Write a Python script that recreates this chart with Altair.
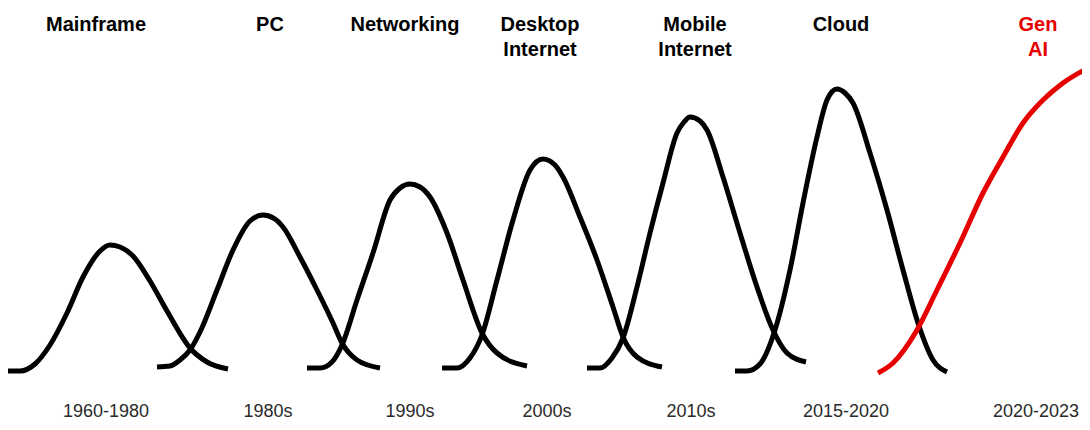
import altair as alt
import pandas as pd

# ---- data (x position, adoption level) ----
mainframe_x = [8, 20, 35, 50, 67, 83, 100, 110, 120, 133, 150, 167, 190, 207, 228]
mainframe_y = [9, 9, 16, 35, 67, 103, 129, 135, 133, 124, 99, 69, 32, 18, 11]

pc_x = [157, 170, 180, 190, 200, 217, 233, 250, 263, 275, 283, 300, 317, 333, 342, 357, 380]
pc_y = [13, 14, 20, 30, 48, 90, 130, 159, 165, 161, 153, 123, 90, 57, 37, 20, 12]

net_x = [307, 320, 332, 342, 357, 373, 390, 400, 410, 420, 430, 447, 463, 482, 497, 527]
net_y = [12, 12, 18, 35, 80, 127, 180, 192, 196, 193, 183, 147, 100, 47, 27, 14]

desk_x = [442, 457, 470, 482, 497, 513, 530, 543, 555, 563, 580, 597, 613, 623, 637, 662]
desk_y = [12, 12, 22, 45, 100, 160, 210, 221, 215, 203, 163, 120, 73, 43, 23, 13]

mob_x = [587, 600, 612, 623, 637, 650, 663, 677, 684, 690, 700, 707, 723, 740, 757, 773, 787, 806]
mob_y = [12, 12, 22, 42, 93, 147, 197, 247, 258, 263, 259, 250, 203, 147, 93, 50, 27, 18]

cloud_x = [735, 747, 760, 775, 790, 803, 817, 827, 837, 845, 853, 870, 887, 903, 918, 933, 947]
cloud_y = [9, 9, 16, 50, 110, 177, 243, 280, 291, 287, 277, 227, 170, 110, 57, 20, 8]

genai_x = [878, 893, 917, 937, 960, 983, 1003, 1023, 1043, 1063, 1090]
genai_y = [7, 17, 50, 90, 137, 187, 223, 257, 280, 297, 313]

eras = ["Mainframe", "PC", "Networking", "Desktop\nInternet", "Mobile\nInternet", "Cloud", "Gen\nAI"]
era_center = [96, 270, 405, 540, 695, 841, 1038]
periods = ["1960-1980", "1980s", "1990s", "2000s", "2010s", "2015-2020", "2020-2023"]
period_center = [106, 268, 410, 547, 691, 846, 1036]
era_kind = ["past", "past", "past", "past", "past", "past", "gen"]

# ---- build tables ----
curves = [
    ("Mainframe", "past", mainframe_x, mainframe_y),
    ("PC", "past", pc_x, pc_y),
    ("Networking", "past", net_x, net_y),
    ("Desktop Internet", "past", desk_x, desk_y),
    ("Mobile Internet", "past", mob_x, mob_y),
    ("Cloud", "past", cloud_x, cloud_y),
    ("Gen AI", "gen", genai_x, genai_y),
]
rows = []
for name, kind, xs, ys in curves:
    for i, (xv, yv) in enumerate(zip(xs, ys)):
        rows.append({"series": name, "kind": kind, "x": xv, "level": yv, "i": i})
lines_df = pd.DataFrame(rows)

top_df = pd.DataFrame({"label": eras, "x": era_center, "kind": era_kind})
bot_df = pd.DataFrame({"label": periods, "x": period_center})

xscale = alt.Scale(domain=[8, 1082], nice=False, zero=False)
yscale = alt.Scale(domain=[-42, 372], nice=False, zero=False)
cscale = alt.Scale(domain=["past", "gen"], range=["#000000", "#e60000"])

lines = alt.Chart(lines_df).mark_line(
    strokeWidth=5, interpolate="monotone", strokeCap="butt", clip=True
).encode(
    x=alt.X("x:Q", scale=xscale, axis=None),
    y=alt.Y("level:Q", scale=yscale, axis=None),
    detail="series:N",
    order="i:Q",
    color=alt.Color("kind:N", scale=cscale, legend=None),
)

top = alt.Chart(top_df).mark_text(
    font="Liberation Sans", fontSize=20, fontWeight="bold", align="center",
    baseline="alphabetic", lineBreak="\n", lineHeight=24.5,
).encode(
    x=alt.X("x:Q", scale=xscale, axis=None),
    y=alt.value(23),
    text="label:N",
    color=alt.Color("kind:N", scale=cscale, legend=None),
)

bottom = alt.Chart(bot_df).mark_text(
    font="Liberation Sans", fontSize=18, align="center", baseline="bottom", color="#2a2a2a",
).encode(
    x=alt.X("x:Q", scale=xscale, axis=None),
    y=alt.value(413),
    text="label:N",
)

chart = alt.layer(lines, top, bottom).properties(
    width=1074, height=414, padding=0,
    autosize=alt.AutoSizeParams(type="none"),
    background="white",
).configure_view(strokeWidth=0)

chart.save("out.html", embed_options={"renderer": "svg", "actions": False})
